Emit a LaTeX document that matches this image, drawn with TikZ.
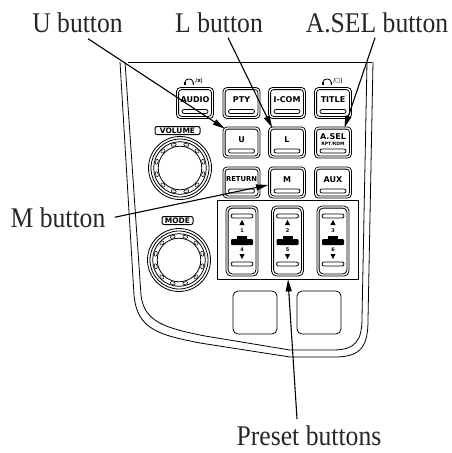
\documentclass[tikz,border=0pt]{standalone}
\usepackage{fontspec}
\setmainfont{Liberation Serif}
\newfontfamily\lblfont[FakeStretch=0.9]{Liberation Serif}
\newfontfamily\btnfont{DejaVu Sans}
\usetikzlibrary{arrows.meta,calc}
\newcommand\mybtn[4]{%
  \node[btn] (#1) at (#2,#3) {};
  \draw[rounded corners=3pt] ([shift={(2.5,2.5)}]#1.north west) rectangle ([shift={(-2.5,-2.5)}]#1.south east);
  \draw[rounded corners=2pt] ([shift={(-13,6.5)}]#1.center) rectangle ([shift={(13,10.5)}]#1.center);
  \node[btntxt] at ([shift={(0,-3)}]#1.center) {#4};
}
\newcommand\mypbtn[5]{%
  \node[pbtn] (#1) at (#2,#3) {};
  \draw[rounded corners=4pt] ([shift={(2.5,2.5)}]#1.north west) rectangle ([shift={(-2.5,-2.5)}]#1.south east);
  \draw[rounded corners=2pt] (#2-11,#3-27) rectangle (#2+11,#3-23);
  \draw[rounded corners=2pt] (#2-11,#3+21) rectangle (#2+11,#3+25);
  \fill (#2,#3-21) -- (#2-2.6,#3-16) -- (#2+2.6,#3-16) -- cycle;
  \fill (#2,#3+18) -- (#2-2.6,#3+13) -- (#2+2.6,#3+13) -- cycle;
  \node[ptxt] at (#2,#3-10) {#4};
  \node[ptxt] at (#2,#3+9) {#5};
  \fill[rounded corners=1pt] (#2-11,#3-2) rectangle (#2+11,#3+4);
  \fill (#2-5,#3-5) rectangle (#2+5,#3-1);
}
\newcommand\myknob[3]{%
  \coordinate (#1) at (#2,#3);
  \draw (#1) circle[radius=31.5pt];
  \draw (#1) circle[radius=29pt];
  \draw (#1) circle[radius=26.3pt];
  \draw (#1) circle[radius=21.8pt];
  \foreach \a in {0,30,...,330}
    \node[draw, line width=0.5pt, rounded corners=1pt, minimum width=5pt, minimum height=2.4pt, inner sep=0pt, rotate=\a+105] at ($(#1)+(\a+15:24pt)$) {};
}
\newcommand\myphones[2]{%
  \draw[line width=0.8pt] (#1-4,#2+2) -- (#1-4,#2) .. controls (#1-4,#2-4) and (#1+4,#2-4) .. (#1+4,#2) -- (#1+4,#2+2);
  \fill (#1-5,#2) rectangle (#1-3.5,#2+2.5);
  \fill (#1+3.5,#2) rectangle (#1+5,#2+2.5);
}
\begin{document}
\begin{tikzpicture}[x=1pt,y=-1pt,
  line width=0.8pt,
  lbl/.style={font=\lblfont\fontsize{28.5}{32}\selectfont, text=black!85, anchor=base, inner sep=0pt},
  arr/.style={line width=1.1pt, -{Triangle[length=12pt,width=6pt]}},
  btn/.style={draw, rounded corners=4pt, minimum width=37pt, minimum height=31pt, inner sep=0pt},
  btntxt/.style={font=\btnfont\bfseries\fontsize{8}{6.5}\selectfont, inner sep=0pt, align=center},
  ptxt/.style={font=\btnfont\bfseries\fontsize{5}{5}\selectfont, inner sep=0pt},
  pbtn/.style={draw, rounded corners=5pt, minimum width=32pt, minimum height=70pt, inner sep=0pt},
  knoblbl/.style={draw, line width=1pt, rounded corners=2pt, minimum height=8pt, inner sep=0pt, font=\btnfont\bfseries\fontsize{7.5}{7}\selectfont},
  sqbox/.style={draw, rounded corners=5pt, minimum width=44pt, minimum height=43pt, inner sep=0pt},
]
\useasboundingbox (0,0) rectangle (452,453);
% panel outline
\draw (120,62) -- (134,295) .. controls (137,330) and (160,335) .. (200,343) -- (290,357) -- (335,357) .. controls (362,357) and (368,345) .. (368,320) -- (373,62);
\draw (125,62) -- (141,295) .. controls (144,322) and (165,328) .. (205,336) -- (290,350) -- (333,350) .. controls (356,350) and (362,340) .. (362,318) -- (367,62);
\draw (128,62) -- (372,62);
% buttons
\mybtn{audio}{195}{103}{AUDIO}
\mybtn{pty}{241.5}{103}{PTY}
\mybtn{icom}{287}{103}{I-COM}
\mybtn{title}{333}{103}{TITLE}
\mybtn{U}{241.5}{142.5}{U}
\mybtn{L}{287}{142.5}{L}
\mybtn{asel}{333}{142.5}{A.SEL\\[-0.5pt]{\fontsize{4.5}{4}\selectfont RPT/RDM}}
\mybtn{ret}{241.5}{182.5}{\fontsize{6.8}{6}\selectfont RETURN}
\mybtn{M}{287}{182.5}{M}
\mybtn{aux}{333}{182.5}{AUX}
% headphone marks
\myphones{189}{82}
\node[font=\btnfont\bfseries\fontsize{5.5}{5}\selectfont, inner sep=0pt, anchor=west] (hp1) at (195,81.5) {/x|};
\myphones{327}{82}
\node[font=\btnfont\bfseries\fontsize{5.5}{5}\selectfont, inner sep=0pt, anchor=west] (hp2) at (333,81.5) {/□|};
% knobs
\node[knoblbl, minimum width=45pt] (vol) at (177.5,130.5) {VOLUME};
\myknob{volk}{180}{168}
\node[knoblbl, minimum width=31pt] (mode) at (177.5,220.5) {MODE};
\myknob{modek}{179}{260}
% preset block
\node[draw, minimum width=141pt, minimum height=79pt, inner sep=0pt] (preset) at (287.5,239.5) {};
\mypbtn{p1}{242}{241}{1}{4}
\mypbtn{p2}{287.5}{241}{2}{5}
\mypbtn{p3}{333}{241}{3}{6}
\node[sqbox] (sq1) at (255,312.5) {};
\node[sqbox] (sq2) at (319,312.5) {};
% labels
\node[lbl] (tU) at (77.5,32) {U button};
\node[lbl] (tL) at (219,32) {L button};
\node[lbl] (tA) at (377,32) {A.SEL button};
\node[lbl] (tM) at (58,227) {M button};
\node[lbl] (tP) at (309,445) {Preset buttons};
% arrows
\draw[arr] ([shift={(10.5,6)}]tU.south) -- ([shift={(2,2)}]U.north west);
\draw[arr] ([shift={(9,5)}]tL.south) -- ([shift={(4,1)}]L.north west);
\draw[arr] ([shift={(-2,5)}]tA.south) -- ([shift={(11.5,1)}]asel.north);
\draw[arr] ([shift={(9,0)}]tM.east) -- ([shift={(0,2.5)}]M.west);
\draw[arr] ([shift={(-12,-6)}]tP.north) -- ([shift={(0.5,0)}]preset.south);
\end{tikzpicture}
\end{document}
